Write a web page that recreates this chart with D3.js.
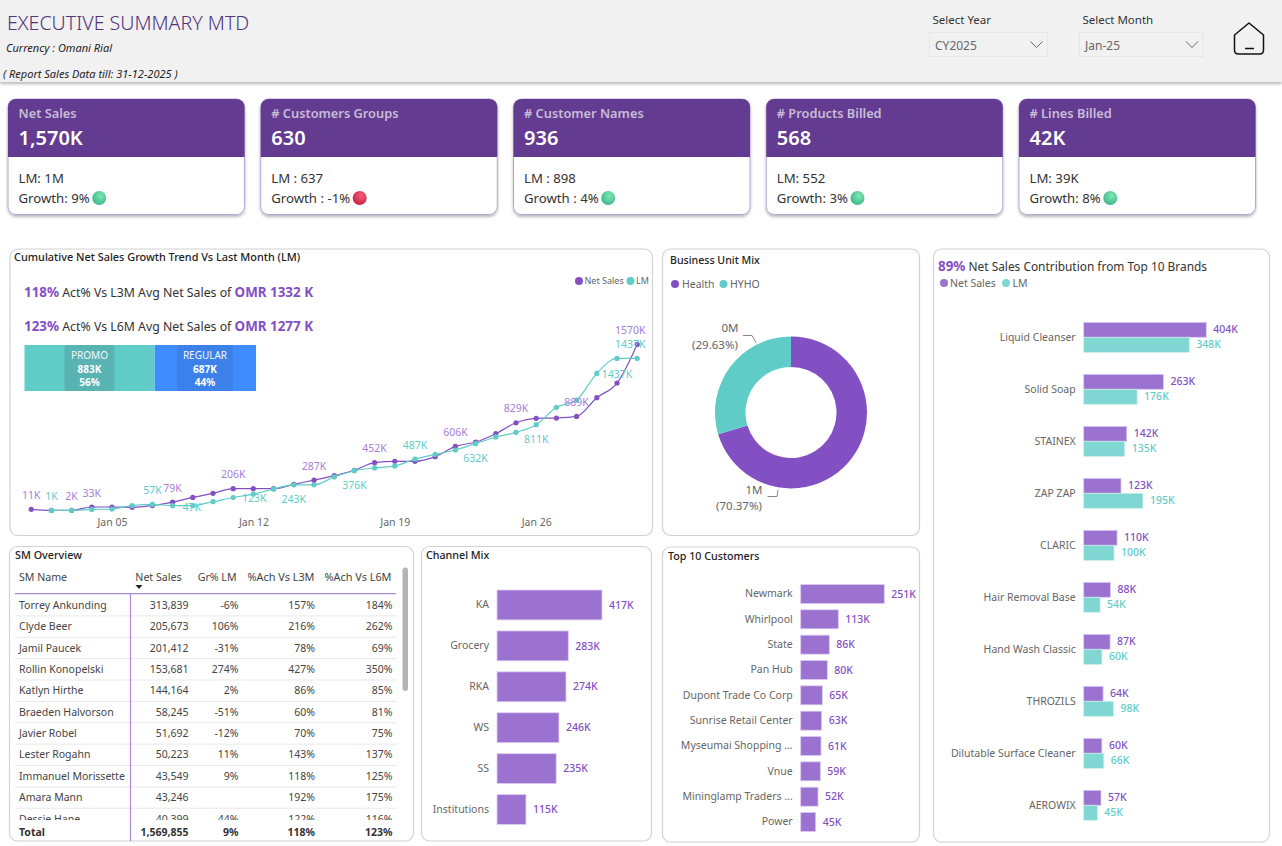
<!DOCTYPE html>
<html>
<head>
<meta charset="utf-8">
<title>Executive Summary MTD</title>
<script src="https://cdn.jsdelivr.net/npm/d3@7"></script>
<style>
  html, body { margin: 0; padding: 0; background: #fff; overflow: hidden; }
  svg { display: block; font-family: "Noto Sans", "Open Sans", sans-serif; }
</style>
</head>
<body>
<svg id="page" width="1282" height="846"></svg>
<script>
// kpi cards
const cardTitles = ["Net Sales", "# Customers Groups", "# Customer Names", "# Products Billed", "# Lines Billed"];
const cardValues = ["1,570K", "630", "936", "568", "42K"];
const cardLM = ["LM: 1M", "LM : 637", "LM : 898", "LM: 552", "LM: 39K"];
const cardGrowth = ["Growth: 9%", "Growth : -1%", "Growth : 4%", "Growth: 3%", "Growth: 8%"];
const cardUp = [true, false, true, true, true];

// cumulative trend, K per day of the month
const days = [1,2,3,4,5,6,7,8,9,10,11,12,13,14,15,16,17,18,19,20,21,22,23,24,25,26,27,28,29,30,31];
const netSales = [11,1,2,33,33,30,47,79,124,162,206,206,206,247,287,329,380,452,465,465,509,606,647,726,829,871,874,889,1066,1205,1570];
const lastMonth = [null,1,2,10,14,47,57,47,47,83,123,155,203,243,243,317,376,402,421,487,531,572,632,695,739,811,975,1044,1296,1437,1437];
const xTicks = [5, 12, 19, 26];

const saleTypes = ["PROMO", "REGULAR"];
const saleTypeValues = [883, 687];
const saleTypeShare = ["56%", "44%"];

const unitNames = ["Health", "HYHO"];
const unitShare = [70.37, 29.63];

// table
const smNames = ["Torrey Ankunding","Clyde Beer","Jamil Paucek","Rollin Konopelski","Katlyn Hirthe","Braeden Halvorson","Javier Robel","Lester Rogahn","Immanuel Morissette","Amara Mann","Dessie Hane"];
const smNet = [313839,205673,201412,153681,144164,58245,51692,50223,43549,43246,40399];
const smGrowth = [-6,106,-31,274,2,-51,-12,11,9,null,44];
const smL3M = [157,216,78,427,86,60,70,143,118,192,122];
const smL6M = [184,262,69,350,85,81,75,137,125,175,116];

const channels = ["KA","Grocery","RKA","WS","SS","Institutions"];
const channelValues = [417,283,274,246,235,115];

const customers = ["Newmark","Whirlpool","State","Pan Hub","Dupont Trade Co Corp","Sunrise Retail Center","Myseumai Shopping ...","Vnue","Mininglamp Traders ...","Power"];
const customerValues = [251,113,86,80,65,63,61,59,52,45];

const brands = ["Liquid Cleanser","Solid Soap","STAINEX","ZAP ZAP","CLARIC","Hair Removal Base","Hand Wash Classic","THROZILS","Dilutable Surface Cleaner","AEROWIX"];
const brandNet = [404,263,142,123,110,88,87,64,60,57];
const brandLM = [348,176,135,195,100,54,60,98,66,45];

const PURPLE = "#8350c4", BAR = "#9b72d0", TEAL = "#5fccc8", BARTEAL = "#80d6d3";

const svg = d3.select("#page");
const defs = svg.append("defs");

const shadow = defs.append("filter").attr("id", "shadow").attr("x", "-5%").attr("y", "-5%").attr("width", "110%").attr("height", "115%");
shadow.append("feDropShadow").attr("dx", 0).attr("dy", 2).attr("stdDeviation", 1.5).attr("flood-color", "#000").attr("flood-opacity", 0.28);

function ballGradient(id, light, dark) {
  const g = defs.append("radialGradient").attr("id", id).attr("cx", "60%").attr("cy", "35%").attr("r", "70%");
  g.append("stop").attr("offset", "0%").attr("stop-color", light);
  g.append("stop").attr("offset", "100%").attr("stop-color", dark);
}
ballGradient("ballGreen", "#7fe8b0", "#3cb48a");
ballGradient("ballRed", "#f4607a", "#c81e3c");

function label(parent, x, y, str, size, color, anchor, weight, style) {
  return parent.append("text")
    .attr("x", x).attr("y", y).attr("dy", "0.35em")
    .attr("font-size", size).attr("fill", color)
    .attr("text-anchor", anchor || "start")
    .attr("font-weight", weight || 400)
    .attr("font-style", style || "normal")
    .text(str);
}

function panel(x0, y0, x1, y1) {
  svg.append("rect").attr("x", x0).attr("y", y0).attr("width", x1 - x0).attr("height", y1 - y0)
    .attr("rx", 8).attr("fill", "#fff").attr("stroke", "#d2d2d2").attr("stroke-width", 1.2);
}

// axis text takes the page font instead of the d3 default
function plainAxis(g, size) {
  g.attr("font-family", null).attr("font-size", size);
  g.select(".domain").remove();
  g.selectAll("text").attr("fill", "#666");
}

// ---- header
svg.append("rect").attr("width", 1282).attr("height", 82).attr("fill", "#f1f1f1").attr("filter", "url(#shadow)");
label(svg, 7, 23, "EXECUTIVE SUMMARY MTD", 19.6, "#4f3479", "start", 300);
label(svg, 6, 48, "Currency : Omani Rial", 11, "#222", "start", 400, "italic");
label(svg, 3, 74, "( Report Sales Data till: 31-12-2025 )", 11, "#222", "start", 400, "italic");

function dropdown(title, value, x0, x1) {
  label(svg, x0 + 3, 19.5, title, 11.5, "#333");
  svg.append("rect").attr("x", x0).attr("y", 32.5).attr("width", x1 - x0).attr("height", 24)
    .attr("fill", "#f1f1f1").attr("stroke", "#e6e6e6");
  label(svg, x0 + 5.5, 45.5, value, 12, "#666");
  svg.append("path").attr("d", `M${x1 - 17},41.5l6,6l6,-6`).attr("fill", "none").attr("stroke", "#666");
}
dropdown("Select Year", "CY2025", 929.5, 1047.5);
dropdown("Select Month", "Jan-25", 1079.5, 1203);

svg.append("path")
  .attr("d", "M1234.5,35 L1249,23 L1263.5,35 V50 Q1263.5,54 1259.5,54 H1238.5 Q1234.5,54 1234.5,50 Z")
  .attr("fill", "none").attr("stroke", "#111").attr("stroke-width", 1.5).attr("stroke-linejoin", "round");
svg.append("path").attr("d", "M1245,48.5H1254").attr("stroke", "#111").attr("stroke-width", 1.5);

// ---- kpi cards
cardTitles.forEach((t, i) => {
  const x = 8 + i * 252.75, w = 236.5;
  const g = svg.append("g").attr("transform", `translate(${x},99)`);
  g.append("rect").attr("width", w).attr("height", 115.5).attr("rx", 8).attr("fill", "#fff")
    .attr("stroke", "#b9a3d6").attr("filter", "url(#shadow)");
  g.append("path").attr("d", `M0,58V8A8,8 0 0 1 8,0H${w - 8}A8,8 0 0 1 ${w},8V58Z`).attr("fill", "#633b91");
  label(g, 10.5, 15, t, 12.8, "#c8bdd6", "start", 600);
  label(g, 10.5, 39, cardValues[i], 20, "#fff", "start", 600);
  label(g, 10.5, 79, cardLM[i], 13.2, "#333");
  const growth = label(g, 10.5, 99, cardGrowth[i], 13.2, "#333");
  const end = growth.node().getComputedTextLength();
  g.append("circle").attr("cx", 10.5 + end + 9.5).attr("cy", 99).attr("r", 7)
    .attr("fill", cardUp[i] ? "url(#ballGreen)" : "url(#ballRed)");
});

// ---- cumulative trend
panel(10, 249, 652.5, 535.5);
label(svg, 14, 257, "Cumulative Net Sales Growth Trend Vs Last Month (LM)", 10.9, "#222", "start", 500);

function statLine(y, pct, mid, omr) {
  const t = svg.append("text").attr("x", 24).attr("y", y).attr("dy", "0.35em");
  t.append("tspan").attr("font-size", 13.4).attr("font-weight", 700).attr("fill", PURPLE).text(pct);
  t.append("tspan").attr("font-size", 12.3).attr("fill", "#333").text(" " + mid + " ");
  t.append("tspan").attr("font-size", 13.4).attr("font-weight", 700).attr("fill", PURPLE).text(omr);
}
statLine(291, "118%", "Act% Vs L3M Avg Net Sales of", "OMR 1332 K");
statLine(325, "123%", "Act% Vs L6M Avg Net Sales of", "OMR 1277 K");

const mixX = d3.scaleLinear().domain([0, d3.sum(saleTypeValues)]).range([24.5, 256]);
let running = 0;
saleTypes.forEach((name, i) => {
  const x0 = mixX(running), x1 = mixX(running + saleTypeValues[i]);
  running += saleTypeValues[i];
  const mid = i == 0 ? 89.5 : 205, half = i == 0 ? 25 : 28;
  svg.append("rect").attr("x", x0).attr("y", 345).attr("width", x1 - x0).attr("height", 46)
    .attr("fill", i == 0 ? TEAL : "#3f8cff");
  svg.append("rect").attr("x", mid - half).attr("y", 345).attr("width", half * 2).attr("height", 46).attr("rx", 3)
    .attr("fill", i == 0 ? "#4f8f92" : "#3a70c8").attr("fill-opacity", 0.4);
  label(svg, mid, 355.5, name, 10, "#f2f6ff", "middle");
  label(svg, mid, 369, saleTypeValues[i] + "K", 10, "#fff", "middle", 700);
  label(svg, mid, 382.5, saleTypeShare[i], 10, "#fff", "middle", 700);
});

svg.append("circle").attr("cx", 579).attr("cy", 281).attr("r", 4).attr("fill", PURPLE);
label(svg, 584.5, 281, "Net Sales", 9, "#666");
svg.append("circle").attr("cx", 630.5).attr("cy", 281).attr("r", 4).attr("fill", TEAL);
label(svg, 636, 281, "LM", 9, "#666");

const dates = days.map(d => new Date(2025, 0, d));
const x = d3.scaleTime().domain([dates[0], dates[30]]).range([31.2, 637.2]);
const y = d3.scaleLinear().domain([0, 1570]).range([510.5, 344.4]);

svg.append("g").attr("transform", "translate(0,516)")
  .call(d3.axisBottom(x).tickValues(xTicks.map(d => new Date(2025, 0, d))).tickFormat(d3.timeFormat("%b %d")).tickSize(0).tickPadding(3))
  .call(plainAxis, 10.5);

function drawSeries(values, color) {
  const pts = values.map((v, i) => ({ v: v, d: dates[i] })).filter(p => p.v != null);
  const line = d3.line().x(p => x(p.d)).y(p => y(p.v)).curve(d3.curveMonotoneX);
  svg.append("path").attr("d", line(pts)).attr("fill", "none").attr("stroke", color).attr("stroke-width", 1.2);
  svg.append("g").selectAll("circle").data(pts).join("circle")
    .attr("cx", p => x(p.d)).attr("cy", p => y(p.v)).attr("r", 2.6).attr("fill", color);
}
drawSeries(netSales, PURPLE);
drawSeries(lastMonth, TEAL);

// which points carry a label and how far the label sits from its point
const netLabelSpots = [[1,0,-14],[3,0,-14],[4,0,-14],[8,0,-14],[11,0,-14],[15,0,-14],[18,0,-14],[22,0,-14],[25,0,-14],[28,0,-14],[31,-7,-14]];
const lmLabelSpots = [[2,0,-14],[7,0,-14],[9,-1,2],[11,21,0.5],[14,0,15],[17,0,15],[20,0,-14],[23,0,15],[26,0,15],[30,0,15.5],[31,-7,-14.5]];
netLabelSpots.forEach(s => label(svg, x(dates[s[0] - 1]) + s[1], y(netSales[s[0] - 1]) + s[2], netSales[s[0] - 1] + "K", 10.5, "#a680d8", "middle"));
lmLabelSpots.forEach(s => label(svg, x(dates[s[0] - 1]) + s[1], y(lastMonth[s[0] - 1]) + s[2], lastMonth[s[0] - 1] + "K", 10.5, TEAL, "middle"));

// ---- donut
panel(662.5, 249, 919.5, 535.5);
label(svg, 670, 260, "Business Unit Mix", 10.6, "#222", "start", 500);
svg.append("circle").attr("cx", 675).attr("cy", 284).attr("r", 4).attr("fill", PURPLE);
label(svg, 682, 284, unitNames[0], 10.5, "#666");
svg.append("circle").attr("cx", 723.5).attr("cy", 284).attr("r", 4).attr("fill", TEAL);
label(svg, 730, 284, unitNames[1], 10.5, "#666");

const pie = d3.pie().sort(null);
const arc = d3.arc().innerRadius(45.5).outerRadius(76);
svg.append("g").attr("transform", "translate(791,412.5)")
  .selectAll("path").data(pie(unitShare)).join("path")
  .attr("d", arc).attr("fill", (d, i) => i == 0 ? PURPLE : TEAL);

label(svg, 730, 328, "0M", 11.5, "#666", "middle");
label(svg, 715, 344.5, "(" + unitShare[1] + "%)", 11.5, "#666", "middle");
label(svg, 754, 490, "1M", 11.5, "#666", "middle");
label(svg, 739, 506, "(" + unitShare[0] + "%)", 11.5, "#666", "middle");
svg.append("path").attr("d", "M743,335.5H752L756,342.5M767.5,496.5H777L778,490").attr("fill", "none").attr("stroke", "#888");

// ---- table
panel(9.5, 546.5, 413.5, 841);
label(svg, 15, 555, "SM Overview", 10.8, "#222", "start", 500);

const colRight = [188.5, 238.5, 315, 392.5];
label(svg, 19, 577, "SM Name", 10.6, "#444");
label(svg, 181.5, 577, "Net Sales", 10.6, "#444", "end");
label(svg, 236.5, 577, "Gr% LM", 10.6, "#444", "end");
label(svg, 314.5, 577, "%Ach Vs L3M", 10.9, "#444", "end");
label(svg, 391.5, 577, "%Ach Vs L6M", 10.9, "#444", "end");
svg.append("path").attr("d", "M135.5,585h7l-3.5,4z").attr("fill", "#222");

defs.append("clipPath").attr("id", "rowsClip").append("rect").attr("x", 10).attr("y", 594).attr("width", 390).attr("height", 226);
const rows = svg.append("g").attr("clip-path", "url(#rowsClip)");
const rowY = d3.scaleBand().domain(smNames).range([594.5, 594.5 + 21.37 * smNames.length]);
const num = d3.format(",");
smNames.forEach((name, i) => {
  const cy = rowY(name) + rowY.bandwidth() / 2;
  rows.append("line").attr("x1", 15).attr("x2", 397).attr("y1", cy + 10.7).attr("y2", cy + 10.7).attr("stroke", "#e8e8e8");
  label(rows, 19, cy, name, 10.5, "#444");
  label(rows, colRight[0], cy, num(smNet[i]), 10.5, "#444", "end");
  if (smGrowth[i] != null) label(rows, colRight[1], cy, smGrowth[i] + "%", 10.5, "#444", "end");
  label(rows, colRight[2], cy, smL3M[i] + "%", 10.5, "#444", "end");
  label(rows, colRight[3], cy, smL6M[i] + "%", 10.5, "#444", "end");
});
svg.append("line").attr("x1", 15).attr("x2", 396).attr("y1", 593.7).attr("y2", 593.7).attr("stroke", "#a98bdc").attr("stroke-width", 1.2);
svg.append("line").attr("x1", 130.5).attr("x2", 130.5).attr("y1", 593.7).attr("y2", 841).attr("stroke", "#a98bdc").attr("stroke-width", 1.2);
svg.append("rect").attr("x", 402.5).attr("y", 567.5).attr("width", 5.5).attr("height", 123.5).attr("rx", 2.7).attr("fill", "#b4b4b4");

label(svg, 19, 832, "Total", 10.5, "#333", "start", 700);
label(svg, colRight[0], 832, "1,569,855", 10.5, "#333", "end", 700);
label(svg, colRight[1], 832, "9%", 10.5, "#333", "end", 700);
label(svg, colRight[2], 832, "118%", 10.5, "#333", "end", 700);
label(svg, colRight[3], 832, "123%", 10.5, "#333", "end", 700);

// ---- single series bars
function hbars(cats, values, x0, pxPerK, top, bottom, inner, size) {
  const yb = d3.scaleBand().domain(cats).range([top, bottom]).paddingInner(inner).paddingOuter(inner / 2);
  const xb = d3.scaleLinear().domain([0, 1]).range([x0, x0 + pxPerK]);
  svg.append("g").selectAll("rect").data(cats).join("rect")
    .attr("x", x0).attr("y", c => yb(c)).attr("height", yb.bandwidth())
    .attr("width", (c, i) => xb(values[i]) - x0)
    .attr("fill", BAR).attr("stroke", "#dccdf0").attr("stroke-width", 0.8);
  svg.append("g").attr("transform", `translate(${x0 - 8},0)`)
    .call(d3.axisLeft(yb).tickSize(0).tickPadding(0))
    .call(plainAxis, size);
  cats.forEach((c, i) => label(svg, xb(values[i]) + 7, yb(c) + yb.bandwidth() / 2, values[i] + "K", size, PURPLE, "start", 500));
}

panel(421.5, 546.5, 651.5, 841);
label(svg, 426, 555, "Channel Mix", 10.7, "#222", "start", 500);
hbars(channels, channelValues, 497, 0.2518, 584.5, 830, 0.27, 10.5);

panel(662.5, 547, 919.5, 842);
label(svg, 668, 556, "Top 10 Customers", 10.7, "#222", "start", 500);
hbars(customers, customerValues, 800.7, 0.3331, 581.3, 834.7, 0.25, 10.5);

// ---- brands
panel(933.5, 249, 1269.5, 842);
const brandTitle = svg.append("text").attr("x", 938).attr("y", 265).attr("dy", "0.35em");
brandTitle.append("tspan").attr("font-size", 13.4).attr("font-weight", 700).attr("fill", PURPLE).text("89%");
brandTitle.append("tspan").attr("font-size", 11.9).attr("fill", "#333").text(" Net Sales Contribution from Top 10 Brands");
svg.append("circle").attr("cx", 944).attr("cy", 283).attr("r", 4).attr("fill", BAR);
label(svg, 950, 283, "Net Sales", 10.5, "#666");
svg.append("circle").attr("cx", 1006).attr("cy", 283).attr("r", 4).attr("fill", BARTEAL);
label(svg, 1012.5, 283, "LM", 10.5, "#666");

const brandY = d3.scaleBand().domain(brands).range([311.3, 831.3]).paddingInner(0.423).paddingOuter(0.2115);
const brandSub = d3.scaleBand().domain(["net", "lm"]).range([0, brandY.bandwidth()]);
const brandX = d3.scaleLinear().domain([0, 404]).range([1083.7, 1206.3]);

svg.append("g").attr("transform", "translate(1075.7,0)")
  .call(d3.axisLeft(brandY).tickSize(0).tickPadding(0))
  .call(plainAxis, 10.5);

function brandBars(values, key, fill, stroke, textColor) {
  svg.append("g").selectAll("rect").data(brands).join("rect")
    .attr("x", brandX(0)).attr("y", b => brandY(b) + brandSub(key))
    .attr("height", brandSub.bandwidth())
    .attr("width", (b, i) => brandX(values[i]) - brandX(0))
    .attr("fill", fill).attr("stroke", stroke).attr("stroke-width", 0.8);
  brands.forEach((b, i) => label(svg, brandX(values[i]) + 7, brandY(b) + brandSub(key) + brandSub.bandwidth() / 2, values[i] + "K", 10.5, textColor, "start", 500));
}
brandBars(brandNet, "net", BAR, "#dccdf0", PURPLE);
brandBars(brandLM, "lm", BARTEAL, "#c8eeec", TEAL);
</script>
</body>
</html>
